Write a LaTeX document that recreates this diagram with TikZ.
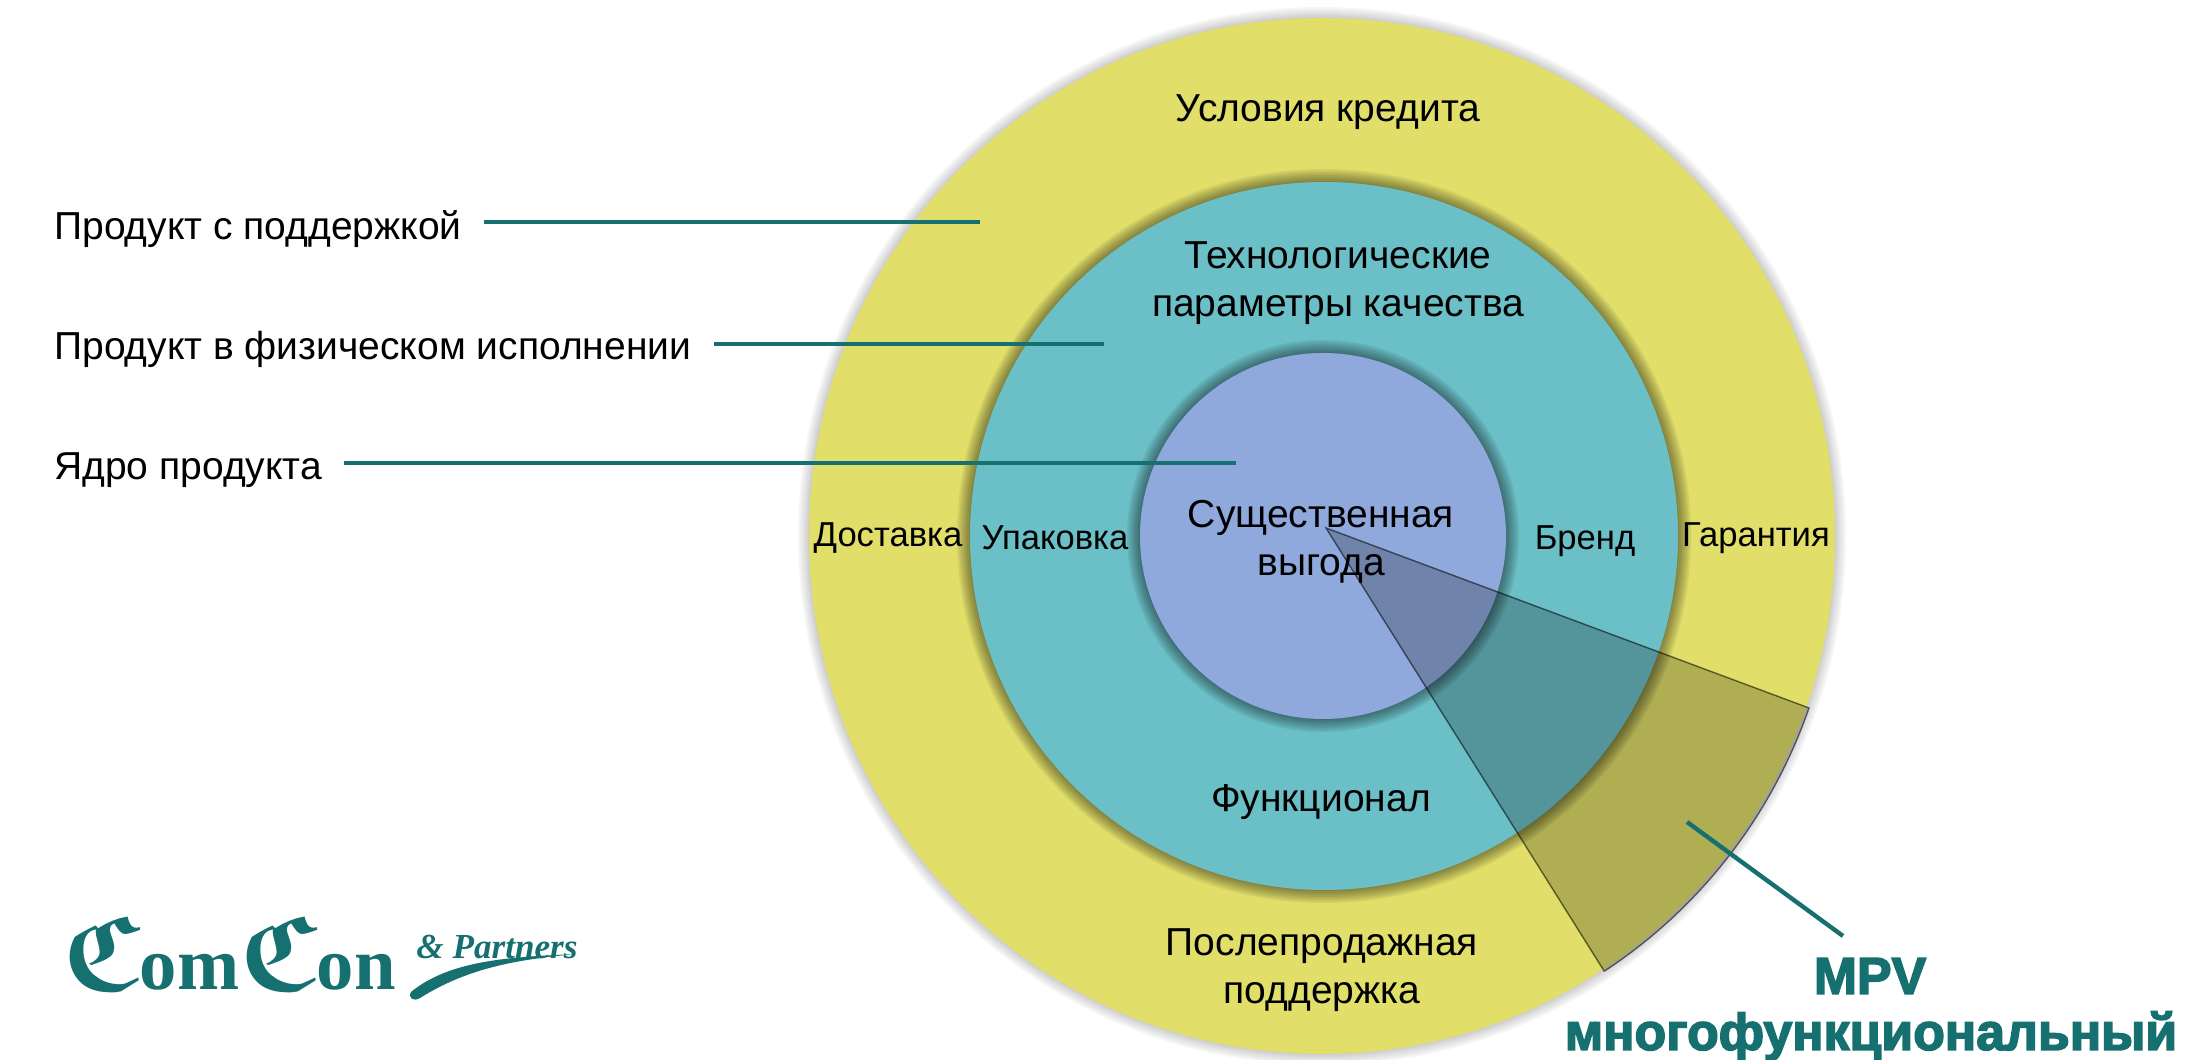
\documentclass[tikz,border=0pt]{standalone}
\usepackage{amsmath,amssymb}
\usepackage{fontspec}
\setmainfont{Liberation Sans}
\newfontfamily\serifbold{Liberation Serif}
\newfontfamily\heavysans[FakeBold=3]{Liberation Sans Bold}
\definecolor{ringyellow}{HTML}{E1DF6A}
\definecolor{ringteal}{HTML}{6BBFC6}
\definecolor{ringblue}{HTML}{8FA9DC}
\definecolor{leadteal}{HTML}{15706F}
\newcommand{\goth}{\ensuremath{\boldsymbol{\mathfrak{C}}}}
\tikzset{
	lbl/.style={font=\fontsize{22.2}{24}\selectfont,text=black,inner sep=0pt,align=center},
	smalllbl/.style={lbl,font=\fontsize{19.7}{24}\selectfont},
	sidelbl/.style={lbl,anchor=west},
	bigteal/.style={font=\fontsize{29.5}{32}\selectfont\heavysans,text=leadteal,inner sep=0pt},
	leader/.style={leadteal,line width=2.5pt},
}
\begin{document}
\begin{tikzpicture}[x=0.02cm,y=0.02cm]
	\useasboundingbox (0,0) rectangle (2208,1060);
	\coordinate (outerc) at (1322,524);
	\coordinate (midc) at (1324,524);
	\coordinate (corec) at (1323,524);
	% rings with a soft rim
	\foreach \d in {1,3,...,11} \fill[black,opacity=0.035] (outerc) ellipse [x radius={513+\d},y radius={518+\d}];
	\fill[ringyellow] (outerc) ellipse [x radius=513,y radius=518];
	\foreach \d in {1,3,...,13} \fill[black,opacity=0.07] (midc) circle ({354+\d});
	\fill[ringteal] (midc) circle (354);
	\foreach \d in {1,3,...,13} \fill[black,opacity=0.07] (corec) circle ({183+\d});
	\fill[ringblue] (corec) circle (183);
	% sector
	\fill[black,opacity=0.22] (1326,532)--(1809,352) arc[start angle=-19.3,end angle=-57,x radius=513,y radius=518]--cycle;
	\draw[black,opacity=0.55,line width=0.8pt] (1326,532)--(1809,352) arc[start angle=-19.3,end angle=-57,x radius=513,y radius=518]--cycle;
	% ring labels
	\node[lbl] (credit) at (1328,948) {Условия кредита};
	\node[lbl] (tech) at (1338,777) {Технологические\\[3.5pt]параметры качества};
	\node[smalllbl] (deliv) at (888,522) {Доставка};
	\node[smalllbl] (pack) at (1055,522) {Упаковка};
	\node[lbl] (benefit) at (1321,518) {Существенная\\[3.5pt]выгода};
	\node[smalllbl] (brand) at (1585,519) {Бренд};
	\node[smalllbl] (warr) at (1756,522) {Гарантия};
	\node[lbl] (func) at (1321,258) {Функционал};
	\node[lbl] (after) at (1322,090) {Послепродажная\\[3.5pt]поддержка};
	% side labels
	\node[sidelbl] (supp) at (54,831) {Продукт с поддержкой};
	\node[sidelbl] (phys) at (54,711) {Продукт в физическом исполнении};
	\node[sidelbl] (core) at (54,590) {Ядро продукта};
	\coordinate (suppend) at (980,838);
	\coordinate (physend) at (1104,716);
	\coordinate (coreend) at (1236,597);
	\draw[leader] (supp.east)++(22,7)--(suppend);
	\draw[leader] (phys.east)++(22,5)--(physend);
	\draw[leader] (core.east)++(22,7)--(coreend);
	% MPV
	\node[bigteal] (mpv) at (1870,84) {MPV};
	\node[bigteal] (multi) at (1871,24) {многофункциональный};
	\coordinate (mpvin) at (1687,238);
	\coordinate (mpvout) at (1843,124);
	\draw[leader] (mpvin)--(mpvout);
	% logo
	\node[font=\fontsize{42.5}{43}\selectfont\serifbold\bfseries,text=leadteal,inner sep=0pt,anchor=base west] (comcon) at (62,70) {{\fontsize{61}{61}\selectfont\goth}om{\fontsize{61}{61}\selectfont\goth}on};
	\node[font=\fontsize{20}{20}\selectfont\serifbold\bfseries\itshape,text=leadteal,inner sep=0pt] (partners) at (497,113) {\& Partners};
	\fill[leadteal] (411,68) .. controls (450,100) and (510,103) .. (577,106) .. controls (510,100) and (465,90) .. (420,62) .. controls (413,58) and (408,62) .. (411,68)--cycle;
\end{tikzpicture}
\end{document}
